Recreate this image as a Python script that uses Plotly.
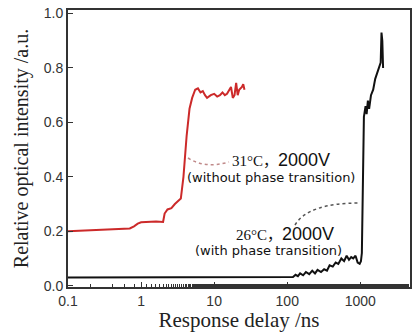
import plotly.graph_objects as go

# Red: 31°C, 2000V (without phase transition)
red_x = [0.1, 0.2, 0.4, 0.7, 0.8, 0.9, 1.0, 1.3, 1.6, 2.0, 2.1, 2.3, 2.6, 2.9, 3.2, 3.5,
         3.8, 4.2, 4.6, 5.0, 5.5, 6.0, 6.5, 7.0, 7.5, 8.0, 9.0, 10, 11, 12, 13, 14, 15,
         16, 17, 18, 19, 20, 21, 22, 24, 25, 26]
red_y = [0.200, 0.203, 0.207, 0.210, 0.218, 0.228, 0.233, 0.235, 0.236, 0.234, 0.265, 0.280,
         0.285, 0.300, 0.310, 0.320, 0.400, 0.550, 0.650, 0.690, 0.720, 0.725, 0.710, 0.715,
         0.700, 0.690, 0.700, 0.705, 0.695, 0.700, 0.710, 0.700, 0.705, 0.720, 0.730, 0.690,
         0.700, 0.745, 0.700, 0.720, 0.730, 0.740, 0.720]

# Black: 26°C, 2000V (with phase transition)
blk_x = [0.1, 100, 120, 130, 140, 150, 165, 180, 200, 220, 240, 260, 290, 320, 350, 380,
         420, 460, 500, 550, 600, 650, 700, 750, 800, 860, 920, 980, 1020, 1050, 1080,
         1120, 1180, 1220, 1270, 1320, 1400, 1500, 1600, 1700, 1800, 1900, 1950, 2000, 2050]
blk_y = [0.030, 0.030, 0.032, 0.040, 0.035, 0.045, 0.038, 0.050, 0.042, 0.055, 0.045, 0.058,
         0.050, 0.060, 0.055, 0.075, 0.070, 0.085, 0.080, 0.100, 0.090, 0.110, 0.095, 0.105,
         0.100, 0.110, 0.085, 0.080, 0.090, 0.120, 0.350, 0.620, 0.660, 0.630, 0.680, 0.650,
         0.700, 0.720, 0.760, 0.780, 0.800, 0.820, 0.930, 0.900, 0.800]

x_tickvals = [0.1, 1, 10, 100, 1000]
x_ticktext = ["0.1", "1", "10", "100", "1000"]
y_tickvals = [0.0, 0.2, 0.4, 0.6, 0.8, 1.0]
y_ticktext = ["0.0", "0.2", "0.4", "0.6", "0.8", "1.0"]

SERIF = "Liberation Serif, Times New Roman, serif"
SANS = "Liberation Sans, Arial, sans-serif"
WIDE = "DejaVu Sans, Verdana, sans-serif"
CJK = "Noto Sans CJK SC"

fig = go.Figure()
fig.add_trace(go.Scatter(x=red_x, y=red_y, mode="lines",
                         line=dict(color="#cc2a2a", width=2), showlegend=False))
fig.add_trace(go.Scatter(x=blk_x, y=blk_y, mode="lines",
                         line=dict(color="#111111", width=2), showlegend=False))

L, R, T, B = 68, 6, 10, 45
W, H = 416, 332
pw, ph = W - L - R, H - T - B


def px(x):
    return (x - L) / pw


def py(y):
    return (H - B - y) / ph


red_path = f"M {px(188)},{py(158)} Q {px(205)},{py(169)} {px(229)},{py(162)}"
blk_path = f"M {px(295)},{py(225)} Q {px(308)},{py(203)} {px(360)},{py(203)}"
fig.add_shape(type="path", path=red_path, xref="paper", yref="paper",
              line=dict(color="#c08a8a", width=1.5, dash="dot"))
fig.add_shape(type="path", path=blk_path, xref="paper", yref="paper",
              line=dict(color="#555555", width=1.5, dash="dot"))


def label(temp, volt, line2, x1, y1, x2, y2):
    fig.add_annotation(xref="paper", yref="paper", x=px(x1), y=py(y1),
                       text=f'<span style="font-family:{SERIF};font-size:15px">{temp}</span>'
                            f'<span style="font-family:{CJK};font-size:15px">，</span>'
                            f'<span style="font-family:{SANS}">{volt}</span>',
                       showarrow=False, font=dict(size=18, color="#111111", family=SANS),
                       xanchor="center", yanchor="middle")
    fig.add_annotation(xref="paper", yref="paper", x=px(x2), y=py(y2), text=line2,
                       showarrow=False, font=dict(size=13, color="#111111", family=WIDE),
                       xanchor="center", yanchor="middle")


label("31°C", "2000V", "(without phase transition)", 281, 160, 271, 177)
label("26°C", "2000V", "(with phase transition)", 285, 233, 268, 250)

axis_common = dict(
    ticks="inside", ticklen=5, tickwidth=1.2, tickcolor="#333",
    showline=True, linecolor="#333", linewidth=2, mirror=True, showgrid=False,
    zeroline=False, automargin=False,
    tickfont=dict(family=SANS, size=14, color="#333"),
)

fig.update_layout(
    width=W, height=H, margin=dict(l=L, r=R, t=T, b=B),
    paper_bgcolor="white", plot_bgcolor="white",
    xaxis=dict(type="log", range=[-1, 3.68], tickvals=x_tickvals, ticktext=x_ticktext,
               minor=dict(ticks="inside", ticklen=3, tickwidth=1, tickcolor="#333", showgrid=False),
               title=dict(text="Response delay /ns", font=dict(family=SERIF, size=21, color="#222"),
                          standoff=2),
               **axis_common),
    yaxis=dict(range=[-0.005, 1.013], tickvals=y_tickvals, ticktext=y_ticktext,
               title=dict(text="Relative optical intensity /a.u.",
                          font=dict(family=SERIF, size=20, color="#222"), standoff=10),
               **axis_common),
)
fig.update_xaxes(tickprefix="<b>", ticksuffix="</b>")
fig.update_yaxes(tickprefix="<b>", ticksuffix="</b>")

fig.write_html("out.html", config={"displayModeBar": False},
               post_script="document.body.style.margin='0';")
